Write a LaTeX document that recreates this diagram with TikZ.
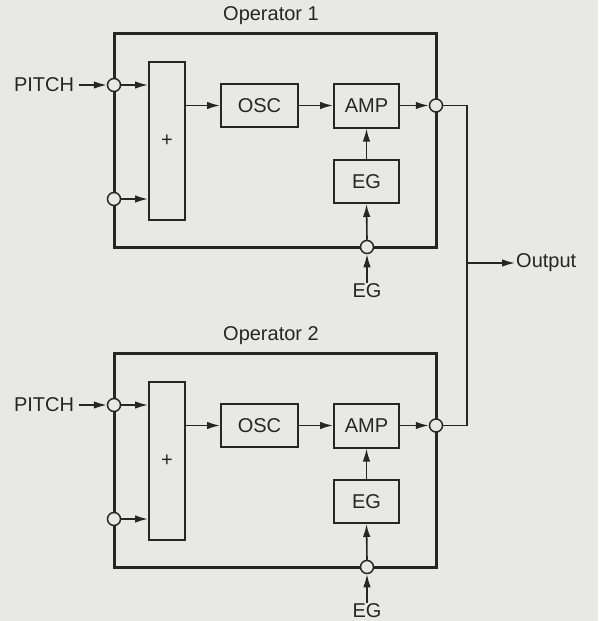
\documentclass[tikz,border=0pt]{standalone}
\usepackage{fontspec}
\setmainfont{Liberation Sans}
\usetikzlibrary{arrows.meta}
\definecolor{bg}{HTML}{E8E8E6}
\definecolor{ink}{HTML}{262626}
\tikzset{
  every node/.style={text=ink, font=\fontsize{20}{22}\selectfont},
  outerbox/.style={draw=ink, line width=3pt, minimum width=322pt, minimum height=214pt, inner sep=0pt},
  blockbox/.style={draw=ink, line width=2pt, inner sep=0pt},
  port/.style={circle, draw=ink, fill=bg, line width=1.5pt, minimum size=13pt, inner sep=0pt},
  conn/.style={draw=ink, line width=1.6pt},
  arr/.style={conn, -{Latex[length=13pt,width=7.5pt]}},
  lbl/.style={inner sep=1pt}
}
\begin{document}
\begin{tikzpicture}[x=1pt,y=-1pt]
\fill[bg] (0,0) rectangle (598,621);
\useasboundingbox (0,0) rectangle (598,621);
\foreach \i/\dy in {1/0,2/320}{
  \begin{scope}[shift={(0,\dy)}]
  \node[outerbox] (box\i) at (275,140) {};
  \node[lbl] (title\i) at (271,16) {Operator \i};
  \node[blockbox, minimum width=36pt, minimum height=158pt] (plus\i) at (167,141) {+};
  \node[blockbox, minimum width=77pt, minimum height=43pt] (osc\i) at (259.5,105.5) {OSC};
  \node[blockbox, minimum width=65pt, minimum height=44pt] (amp\i) at (366.5,105.5) {AMP};
  \node[blockbox, minimum width=65pt, minimum height=43pt] (eg\i) at (366.5,181.5) {EG};
  \node[port] (cin\i) at (114,85) {};
  \node[port] (cinb\i) at (114,199) {};
  \node[port] (cout\i) at (436,105.5) {};
  \node[port] (cbot\i) at (367,247) {};
  \node[lbl] (pitch\i) at (44,85) {PITCH};
  \node[lbl] (eglab\i) at (367,291) {EG};
  \draw[arr] (pitch\i.east) ++(4,0) -- (cin\i.west);
  \draw[arr] (cin\i.east) -- (plus\i.west |- cin\i);
  \draw[arr] (cinb\i.east) -- (plus\i.west |- cinb\i);
  \draw[arr] (plus\i.east |- osc\i) -- (osc\i.west);
  \draw[arr] (osc\i.east) -- (amp\i.west);
  \draw[arr] (amp\i.east) -- (cout\i.west);
  \draw[arr] (eg\i.north) -- (amp\i.south);
  \draw[arr] (cbot\i.north) -- (eg\i.south);
  \draw[arr] (eglab\i.north) -- (cbot\i.south);
  \end{scope}
}
\coordinate (junction) at (467,263);
\node[lbl, anchor=west] (output) at (515,263) {Output};
\draw[conn] (cout1.east) -| (junction) |- (cout2.east);
\draw[arr] (junction) -- (output.west);
\end{tikzpicture}
\end{document}
